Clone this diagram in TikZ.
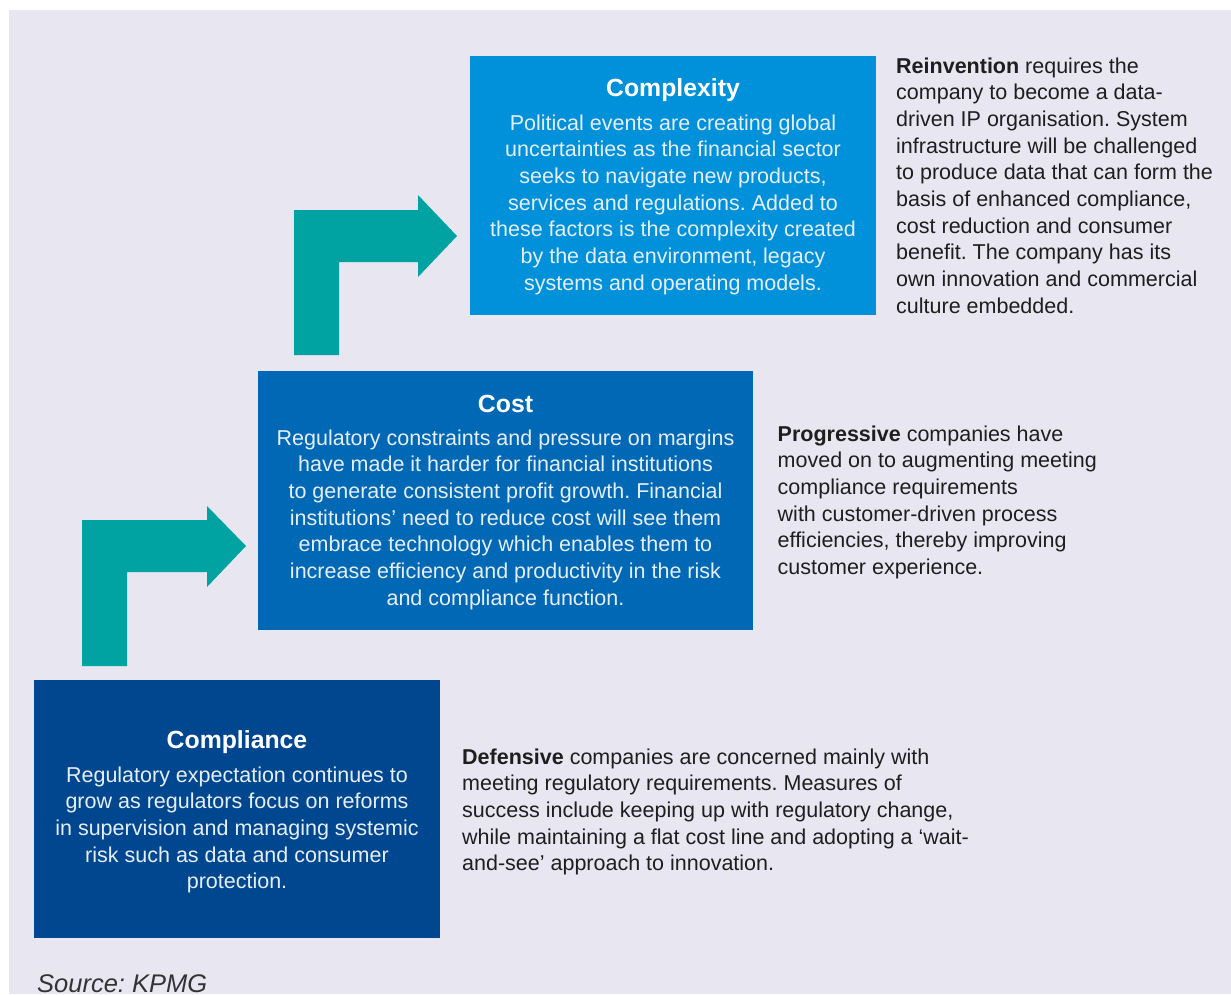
\documentclass[tikz,border=0pt]{standalone}
\usepackage{fontspec}
\setmainfont{Liberation Sans}
\frenchspacing
\definecolor{bg}{HTML}{E8E6F1}
\definecolor{cplx}{HTML}{0091DA}
\definecolor{costc}{HTML}{0068B5}
\definecolor{compc}{HTML}{01478F}
\definecolor{kteal}{HTML}{00A3A1}
\definecolor{bodywhite}{HTML}{E6EEF8}
\definecolor{ink}{HTML}{1E1E1E}
\definecolor{srcgray}{HTML}{333333}
\begin{document}
\begin{tikzpicture}[x=1pt,y=-1pt,
  panel/.style={inner sep=0, anchor=north west, draw=none},
  boxtitle/.style={font=\fontsize{24.8}{28}\selectfont\bfseries, text=white, anchor=base, inner sep=0},
  boxbody/.style={font=\fontsize{21.5}{26.7}\selectfont, text=bodywhite, align=center, anchor=base, inner sep=0},
  sidetext/.style={font=\fontsize{21.5}{26.7}\selectfont, text=ink, align=left, anchor=base west, inner sep=0},
  turnarrow/.style={fill=kteal, draw=none}]
\useasboundingbox (0,0) rectangle (1231,994);
\fill[white] (0,0) rectangle (1231,994);
\fill[bg] (9,10) rectangle (1231,994);

% panels
\node[panel, fill=cplx, minimum width=406pt, minimum height=259pt] (complexity) at (470,56) {};
\node[panel, fill=costc, minimum width=495pt, minimum height=259pt] (cost) at (258,371) {};
\node[panel, fill=compc, minimum width=406pt, minimum height=258pt] (compliance) at (34,680) {};

% turn arrows
\path[turnarrow] (294,355) -- (294,210) -- (418,210) -- (418,195) -- (457,236) -- (418,277) -- (418,262) -- (339,262) -- (339,355) -- cycle;
\path[turnarrow] (82,666) -- (82,520) -- (207,520) -- (207,506) -- (246,546) -- (207,587) -- (207,572) -- (127,572) -- (127,666) -- cycle;

% complexity text (base anchor = baseline of last line)
\node[boxtitle] (complexityT) at (673,96) {Complexity};
\node[boxbody] (complexityB) at (673,290.2) {Political events are creating global\\uncertainties as the financial sector\\seeks to navigate new products,\\services and regulations. Added to\\these factors is the complexity created\\by the data environment, legacy\\systems and operating models.};

% cost text
\node[boxtitle] (costT) at (505.5,412) {Cost};
\node[boxbody] (costB) at (505.5,605.2) {Regulatory constraints and pressure on margins\\have made it harder for financial institutions\\to generate consistent profit growth. Financial\\institutions’ need to reduce cost will see them\\embrace technology which enables them to\\increase efficiency and productivity in the risk\\and compliance function.};

% compliance text
\node[boxtitle] (complianceT) at (237,748) {Compliance};
\node[boxbody] (complianceB) at (237,888.8) {Regulatory expectation continues to\\grow as regulators focus on reforms\\in supervision and managing systemic\\risk such as data and consumer\\protection.};

% side texts
\node[sidetext] (reinvention) at (896,313.3) {\textbf{Reinvention} requires the\\company to become a data-\\driven IP organisation. System\\infrastructure will be challenged\\to produce data that can form the\\basis of enhanced compliance,\\cost reduction and consumer\\benefit. The company has its\\own innovation and commercial\\culture embedded.};
\node[sidetext] (progressive) at (777.5,574.5) {\textbf{Progressive} companies have\\moved on to augmenting meeting\\compliance requirements\\with customer-driven process\\efficiencies, thereby improving\\customer experience.};
\node[sidetext] (defensive) at (462,870.8) {\textbf{Defensive} companies are concerned mainly with\\meeting regulatory requirements. Measures of\\success include keeping up with regulatory change,\\while maintaining a flat cost line and adopting a ‘wait-\\and-see’ approach to innovation.};

% source
\node[anchor=base west, inner sep=0, font=\fontsize{25.5}{30}\selectfont\itshape, text=srcgray] (source) at (37,992) {Source: KPMG};
\end{tikzpicture}
\end{document}
